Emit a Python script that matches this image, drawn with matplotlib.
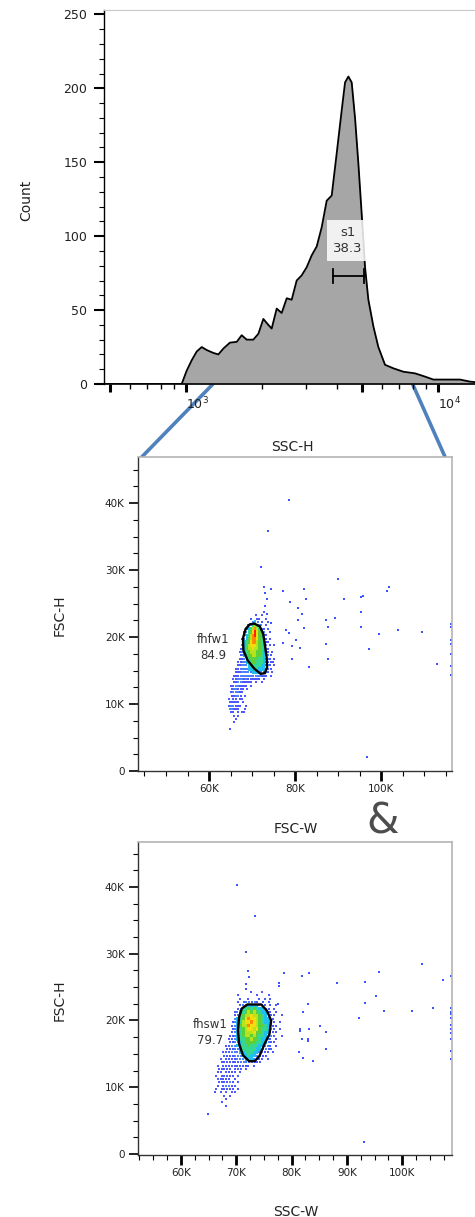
import numpy as np
import matplotlib
matplotlib.use("Agg")
import matplotlib.pyplot as plt
from matplotlib.colors import ListedColormap, BoundaryNorm
from matplotlib.patches import Polygon, ConnectionPatch
from matplotlib.ticker import FixedLocator, MultipleLocator, FuncFormatter, FixedFormatter

# ---------------- SSC-H histogram ----------------
ssc_h = [474, 700, 964, 1009, 1056, 1106, 1158, 1211, 1288, 1348, 1411, 1499,
         1594, 1668, 1746, 1855, 1943, 2033, 2128, 2194, 2297, 2404, 2517, 2634,
         2757, 2886, 3021, 3162, 3310, 3465, 3627, 3797, 3974, 4159, 4289, 4422,
         4558, 4699, 4845, 4994, 5149, 5308, 5556, 5815, 6180, 6671, 7308, 8131,
         8906, 9612, 10857, 12265, 13437, 14723]
counts = [0, 0, 0, 9, 16, 22, 25, 23, 21, 20, 24, 28,
          28.5, 33, 30, 30, 34, 44, 40, 37.5, 51, 48, 58, 57,
          70, 73.5, 79, 87, 93, 106, 124, 127.5, 156, 185, 204, 208,
          204, 180, 149, 115, 79, 57, 39, 25, 13, 10.6, 8.3, 7.2,
          5, 3, 3, 3, 1.6, 1]
s1_range = (3840, 5100)
s1_level = 73
s1_name, s1_pct = "s1", "38.3"
zoom_range = (1283, 7950)   # SSC-H span carried down to the FSC plots

# ---------------- density level colours ----------------
level_colors = ['#2b3cff', '#2c6cff', '#1fc0f0', '#34d890', '#5ccf3a',
                '#b5e31c', '#f2de0f', '#ff8a00', '#ff2200']

BIN = 0.5  # density bin width, thousands

# ---------------- FSC-W vs FSC-H ----------------
fhfw_w0, fhfw_h_top = 63.5, 24.0
fhfw_rows = [
    "..................1.........",
    "..............1..1..........",
    "............1..11..1........",
    ".............232.1..1.......",
    "...........1246532.1........",
    "..........134686421.1.......",
    ".........1245797532..1......",
    ".........23468975321........",
    "........123568875421.1......",
    "........1345788654311.......",
    "........234677765432.1.1....",
    ".......12356676654321.......",
    ".......12345666554321.1.....",
    ".......123455665543221......",
    ".......112345555443221.1....",
    "......11223445544432111.....",
    "......1122234444433221.1....",
    ".....11222233344333211......",
    ".....1112222233332221.1.....",
    "....1112222222222111.1......",
    "....1122212111111.1.........",
    "....112211111.1..1..........",
    "...11221111.1...............",
    "...122111.1.................",
    "...122211...................",
    "...11221.1..................",
    "..1.11.11...................",
    "..11111.1...................",
    "..122111..1.................",
    "..22111..1..................",
    "...11.1.11..................",
    "....1.1.....................",
    ".....1......................",
    "....1.......................",
    "............................",
    "..1.........................",
]
fhfw_out_w = [78.6, 90.0, 77.1, 82.2, 101.9, 101.3, 78.9, 82.5, 91.4, 95.4, 95.9,
              80.6, 81.7, 95.4, 80.6, 87.2, 89.4, 82.0, 87.7, 95.4, 78.0, 78.6,
              104.0, 99.6, 109.6, 80.3, 77.1, 79.2, 81.2, 87.2, 97.3, 79.2, 87.7,
              83.2, 113.1, 96.8, 73.7, 72.0, 72.8, 73.1, 73.4, 74.5, 73.1, 73.5,
              74.3, 116.3, 116.3, 116.3, 116.3, 116.3, 116.3, 116.3]
fhfw_out_h = [40.4, 28.7, 26.8, 27.2, 27.4, 26.8, 25.3, 25.7, 25.7, 25.9, 26.1,
              24.3, 23.5, 23.7, 22.6, 22.6, 22.8, 21.3, 21.5, 21.5, 21.1, 20.6,
              21.1, 20.4, 20.7, 19.5, 19.1, 18.6, 18.4, 19.0, 18.2, 16.7, 16.7,
              15.5, 15.9, 2.1, 35.8, 30.5, 27.5, 26.6, 25.7, 27.2, 24.7, 23.4,
              22.1, 22.0, 21.5, 19.5, 19.0, 17.5, 15.7, 14.4]
fhfw1_gate_w = [70.5, 71.8, 72.6, 73.0, 73.4, 73.5, 73.0, 72.0, 70.5, 69.0, 68.0,
                67.9, 68.5, 69.5]
fhfw1_gate_h = [22.0, 21.6, 20.5, 18.8, 17.0, 15.5, 14.6, 14.5, 15.3, 16.5, 18.0,
                19.8, 21.2, 21.9]
fhfw1_name, fhfw1_pct = "fhfw1", "84.9"

# ---------------- SSC-W vs FSC-H ----------------
fhsw_w0, fhsw_h_top = 65.5, 24.5
fhsw_rows = [
    "..............1...1...........",
    ".........1......1...1.........",
    "..........1..1...1.1.1........",
    ".........1.122121.1.1.........",
    "..........1233333221.1.1......",
    ".........124454543321.1.......",
    "........12345656543321.1......",
    "........124566766543211..1....",
    "........234578776543321.......",
    ".......1234677876543321.1.....",
    ".......12356687765543211......",
    ".......1234567767544321.1.....",
    ".......12345666755433211......",
    "......11234566565443221..1....",
    "......1123445565543321.1......",
    "......11223455554433211.......",
    ".....11223344544433221.1......",
    ".....11122344444332211........",
    "....11122233444332211.1.......",
    "....1111222334332211..........",
    "...1.11112223332211.1.........",
    "...111111122222111............",
    "..1.1111111111.1..............",
    "..11111.111.1.................",
    "..11.1111.1...................",
    ".1.11111.1....................",
    "..11111.1.....................",
    "..111121.1....................",
    "..1.12211.....................",
    ".1.11111.1....................",
    ".1.1.1.11.....................",
    "....1.1.......................",
    ".....1........................",
    "...1..........................",
    ".....1........................",
    "..............................",
]
fhsw_out_w = [103.5, 95.8, 78.7, 81.8, 83.1, 77.8, 77.8, 88.2, 93.3, 107.3, 95.3,
              93.3, 82.9, 77.5, 105.6, 96.7, 101.8, 82.0, 92.2, 85.1, 83.1, 81.5,
              81.5, 86.2, 82.9, 82.9, 81.8, 86.2, 81.3, 82.0, 83.8, 70.1, 73.4,
              71.7, 93.1, 64.9, 72.1, 72.3, 71.7, 71.7,
              108.8, 108.8, 108.8, 108.8, 108.8, 108.8, 108.8, 108.8, 108.8,
              108.8, 108.8]
fhsw_out_h = [28.5, 27.3, 27.1, 26.7, 27.1, 25.6, 25.2, 25.6, 25.8, 26.0, 23.6,
              22.6, 22.5, 22.5, 21.9, 21.4, 21.4, 21.2, 20.3, 19.2, 18.8, 18.8,
              18.5, 18.3, 17.3, 17.0, 17.2, 15.7, 15.3, 14.4, 14.0, 40.3, 35.7,
              30.3, 1.85, 6.0, 27.4, 26.5, 25.5, 24.7,
              26.7, 21.9, 21.3, 20.9, 20.3, 19.3, 18.8, 18.1, 17.3, 15.5, 14.2]
fhsw1_gate_w = [71.0, 72.0, 74.5, 75.5, 76.3, 76.0, 75.0, 74.2, 73.3, 72.3, 71.2,
                70.5, 70.3, 70.5]
fhsw1_gate_h = [21.8, 22.4, 22.4, 21.5, 20.0, 18.0, 16.3, 14.7, 13.9, 13.9, 14.8,
                16.5, 18.5, 20.5]
fhsw1_name, fhsw1_pct = "fhsw1", "79.7"

# ======================================================
W_PX, H_PX, DPI = 475, 1217, 100
fig = plt.figure(figsize=(W_PX / DPI, H_PX / DPI), dpi=DPI)
fig.patch.set_facecolor('white')


def px_axes(left, top, right, bottom):
    return fig.add_axes([left / W_PX, 1 - bottom / H_PX,
                         (right - left) / W_PX, (bottom - top) / H_PX])


TXT = '#222222'
cmap = ListedColormap(level_colors)
norm = BoundaryNorm(np.arange(0.5, 10.5, 1.0), cmap.N)

# ---------------- histogram ----------------
axh = px_axes(104, 10, 480, 384)
axh.set_xscale('log')
axh.fill_between(ssc_h, counts, 0, color='#a6a6a6', lw=0, zorder=1)
axh.plot(ssc_h, counts, color='black', lw=1.3, zorder=2)
axh.set_xlim(474, 14720)
axh.set_ylim(0, 253)
axh.xaxis.set_major_locator(FixedLocator([500, 1000, 5000, 10000]))
axh.xaxis.set_major_formatter(FixedFormatter(['', r'$10^3$', '', r'$10^4$']))
axh.xaxis.set_minor_locator(FixedLocator([600, 700, 800, 900, 2000, 3000, 4000,
                                          6000, 7000, 8000, 9000]))
axh.xaxis.set_minor_formatter(FixedFormatter([''] * 11))
axh.set_yticks(range(0, 251, 50))
axh.yaxis.set_minor_locator(MultipleLocator(10))
axh.tick_params(axis='x', which='major', length=5.5, width=2.2, pad=3,
                labelsize=9, labelcolor=TXT)
axh.tick_params(axis='x', which='minor', length=3.5, width=1.0)
axh.tick_params(axis='y', which='major', length=7, width=1.5, pad=5,
                labelsize=9, labelcolor=TXT)
axh.tick_params(axis='y', which='minor', length=3.5, width=0.8)
for lab in axh.get_xticklabels():
    lab.set_horizontalalignment('left')
axh.spines['top'].set_color('#c8c8c8')
axh.spines['right'].set_visible(False)
axh.spines['left'].set_linewidth(1.0)
axh.spines['bottom'].set_linewidth(1.2)
axh.set_ylabel('Count', fontsize=10, color=TXT)
axh.yaxis.set_label_coords(-0.189, 0.492)
axh.set_xlabel('SSC-H', fontsize=10, color=TXT)
axh.xaxis.set_label_coords(0.5, -0.15)

# s1 gate bar and label
axh.plot(s1_range, [s1_level, s1_level], color='black', lw=1.3, zorder=4)
for xv in s1_range:
    axh.plot([xv, xv], [s1_level - 5, s1_level + 5], color='black', lw=1.3, zorder=4)
s1_mid = np.sqrt(s1_range[0] * s1_range[1])
axh.text(s1_mid * 0.995, 97, f"{s1_name}\n{s1_pct}", ha='center', va='center',
         fontsize=9.5, color='#333333', linespacing=1.35, zorder=5,
         bbox=dict(boxstyle='square,pad=0.45', fc='white', ec='none', alpha=0.85))


# ---------------- scatter helpers ----------------
def draw_density(ax, rows, w0, h_top):
    grid = np.array([[0 if ch == '.' else int(ch) for ch in r] for r in rows], float)
    nrow, ncol = grid.shape
    w_edges = (w0 + BIN * np.arange(ncol + 1)) * 1000
    h_edges = (h_top - BIN * np.arange(nrow + 1)) * 1000
    # busy bins are painted as solid cells
    dense = np.ma.masked_less(grid, 3)
    ax.pcolormesh(w_edges, h_edges, dense, cmap=cmap, norm=norm,
                  shading='flat', edgecolors='none', zorder=2)
    # sparse bins stay as separate dots, alternate rows staggered
    for lvl, size in ((1, 2.2), (2, 3.8)):
        rr, cc = np.nonzero(grid == lvl)
        stagger = np.where(rr % 2 == 0, -0.15, 0.15) * BIN
        wc = (w0 + BIN * (cc + 0.5) + stagger) * 1000
        hc = (h_top - BIN * (rr + 0.5)) * 1000
        ax.scatter(wc, hc, s=size, marker='s', c=level_colors[lvl - 1], lw=0,
                   alpha=0.85, zorder=2)


def style_scatter(ax, xmaj, xmin_step, xlim, ylim, xlabel):
    ax.set_xlim(*xlim)
    ax.set_ylim(*ylim)
    ax.xaxis.set_major_locator(FixedLocator(xmaj))
    ax.xaxis.set_minor_locator(MultipleLocator(xmin_step))
    ax.yaxis.set_major_locator(FixedLocator([0, 10000, 20000, 30000, 40000]))
    ax.yaxis.set_minor_locator(MultipleLocator(2500))
    fmt = FuncFormatter(lambda v, p: '0' if v == 0 else f'{int(round(v / 1000))}K')
    ax.xaxis.set_major_formatter(fmt)
    ax.yaxis.set_major_formatter(fmt)
    ax.tick_params(axis='x', which='major', length=7.5, width=2.0, pad=2,
                   labelsize=7.5, labelcolor=TXT)
    ax.tick_params(axis='x', which='minor', length=3.5, width=0.8)
    ax.tick_params(axis='y', which='major', length=6.5, width=1.2, pad=3,
                   labelsize=7.5, labelcolor=TXT)
    ax.tick_params(axis='y', which='minor', length=3.5, width=0.8)
    for s in ('top', 'right'):
        ax.spines[s].set_color('#b4b4b4')
        ax.spines[s].set_linewidth(1.2)
    for s in ('left', 'bottom'):
        ax.spines[s].set_color('#333333')
        ax.spines[s].set_linewidth(1.0)
    ax.set_ylabel('FSC-H', fontsize=10, color=TXT)
    ax.yaxis.set_label_coords(-0.226, 0.496)
    ax.set_xlabel(xlabel, fontsize=10, color=TXT)
    ax.xaxis.set_label_coords(0.503, -0.162)


def draw_gate(ax, gw, gh, name, pct, lx, ly):
    pts = np.column_stack([np.array(gw) * 1000, np.array(gh) * 1000])
    ax.add_patch(Polygon(pts, closed=True, fill=False, ec='black', lw=1.7,
                         joinstyle='round', zorder=4))
    ax.text(lx, ly, f"{name}\n{pct}", ha='center', va='center', fontsize=8.5,
            color='#333333', linespacing=1.3, zorder=5)


# ---------------- FSC-W plot ----------------
ax1 = px_axes(138, 457, 452, 771)
style_scatter(ax1, [60000, 80000, 100000], 5000, (43490, 116500), (0, 46870), 'FSC-W')
draw_density(ax1, fhfw_rows, fhfw_w0, fhfw_h_top)
ax1.scatter(np.array(fhfw_out_w) * 1000, np.array(fhfw_out_h) * 1000, s=3.2,
            marker='s', c='#3a55ff', lw=0, zorder=2, clip_on=False)
draw_gate(ax1, fhfw1_gate_w, fhfw1_gate_h, fhfw1_name, fhfw1_pct, 60900, 18400)

# ---------------- SSC-W plot ----------------
ax2 = px_axes(138, 842, 452, 1155)
style_scatter(ax2, [60000, 70000, 80000, 90000, 100000], 2500, (52230, 108980),
              (-150, 46740), 'SSC-W')
draw_density(ax2, fhsw_rows, fhsw_w0, fhsw_h_top)
ax2.scatter(np.array(fhsw_out_w) * 1000, np.array(fhsw_out_h) * 1000, s=3.2,
            marker='s', c='#3a55ff', lw=0, zorder=2, clip_on=False)
draw_gate(ax2, fhsw1_gate_w, fhsw1_gate_h, fhsw1_name, fhsw1_pct, 65240, 18150)
ax2.yaxis.set_label_coords(-0.226, 0.495)
ax2.xaxis.set_label_coords(0.503, -0.16)

# ---------------- zoom connectors and ampersand ----------------
for xa, xb in zip(zoom_range, (0.012, 0.978)):
    con = ConnectionPatch(xyA=(xa, 0), coordsA=axh.transData,
                          xyB=(xb, 1.0), coordsB=ax1.transAxes,
                          color='#4f81bd', lw=2.6, zorder=0)
    fig.add_artist(con)

fig.text(383 / W_PX, 1 - 822 / H_PX, '&', fontsize=30, color='#4d4d4d',
         ha='center', va='center')

fig.savefig('out.png', dpi=DPI)
